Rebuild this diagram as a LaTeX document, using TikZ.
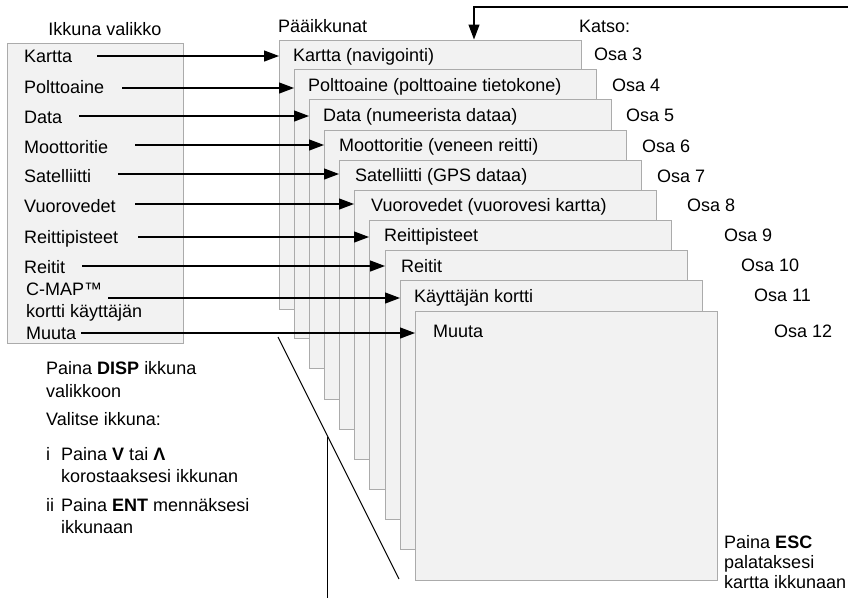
\documentclass[tikz,border=0pt]{standalone}
\usepackage{fontspec}
\setmainfont{Liberation Sans}
\usetikzlibrary{arrows.meta,calc}
\begin{document}
\begin{tikzpicture}[x=1pt,y=-1pt,
  winbox/.style={draw=black!33, fill=black!5, line width=1.2pt, minimum width=302pt, minimum height=269pt, anchor=north west, inner sep=0pt},
  menubox/.style={draw=black!33, fill=black!5, line width=1.2pt, minimum width=176pt, minimum height=300pt, anchor=north west, inner sep=0pt},
  txt/.style={anchor=base west, inner sep=0pt, font=\fontsize{18}{20}\selectfont},
  ctxt/.style={anchor=base, inner sep=0pt, font=\fontsize{18}{20}\selectfont},
  conn/.style={line width=1.2pt, -{Triangle[length=15pt,width=11pt]}},
  guide/.style={line width=1pt}
]
\useasboundingbox (0,0) rectangle (848,598);

% left menu box
\node[menubox] (menu) at (7,43) {};
\node[ctxt] (menutitle) at (105,35) {Ikkuna valikko};
\node[txt] (m0) at (24,62) {Kartta};
\node[txt] (m1) at (24,93) {Polttoaine};
\node[txt] (m2) at (24,123) {Data};
\node[txt] (m3) at (24,153) {Moottoritie};
\node[txt] (m4) at (24,182) {Satelliitti};
\node[txt] (m5) at (24,212) {Vuorovedet};
\node[txt] (m6) at (24,243) {Reittipisteet};
\node[txt] (m7) at (24,273) {Reitit};
\node[txt] (m8) at (26,295) {C-MAP™};
\node[txt] (m8b) at (26,317) {kortti käyttäjän};
\node[txt] (m9) at (26,339) {Muuta};

% window stack
\node[txt] (stacktitle) at (278,32) {Pääikkunat};
\node[txt] (katso) at (579,32) {Katso:};
\foreach \i/\x/\y in {0/279/39.5,1/294/69,2/309/99,3/324/130,4/339/160,5/354/190,6/369/220,7/385/250,8/400/280,9/415/311}
  \node[winbox] (b\i) at (\x,\y) {};

\node[txt] (w0) at (293,61.5) {Kartta (navigointi)};
\node[txt] (w1) at (308,91) {Polttoaine (polttoaine tietokone)};
\node[txt] (w2) at (323,121.5) {Data (numeerista dataa)};
\node[txt] (w3) at (339,151.5) {Moottoritie (veneen reitti)};
\node[txt] (w4) at (355,181.5) {Satelliitti (GPS dataa)};
\node[txt] (w5) at (371,211.5) {Vuorovedet (vuorovesi kartta)};
\node[txt] (w6) at (384,241.5) {Reittipisteet};
\node[txt] (w7) at (401,272) {Reitit};
\node[txt] (w8) at (414,302) {Käyttäjän kortti};
\node[txt] (w9) at (433,337) {Muuta};

% section references
\node[txt] (o3) at (594,60) {Osa 3};
\node[txt] (o4) at (612,91) {Osa 4};
\node[txt] (o5) at (626,121.5) {Osa 5};
\node[txt] (o6) at (642,152) {Osa 6};
\node[txt] (o7) at (657,182) {Osa 7};
\node[txt] (o8) at (687,211.5) {Osa 8};
\node[txt] (o9) at (724,241.5) {Osa 9};
\node[txt] (o10) at (741,271.5) {Osa 10};
\node[txt] (o11) at (754,301.5) {Osa 11};
\node[txt] (o12) at (774,337) {Osa 12};

% connectors from menu to windows
\foreach \i/\x/\y in {0/97/56,1/122/88,2/79/116,3/135/145,4/118/174,5/135/204,6/138/237,7/82/266,8/108/298,9/81/333}{
  \coordinate (a\i) at (\x,\y);
  \draw[conn] (a\i) -- (a\i -| b\i.west);
}

% return arrow from top right
\coordinate (topR) at (848,7);
\coordinate (topC) at (474,7);
\draw[conn] (topR) -- (topC) -- (topC |- b0.north);

% bracket lines bottom left
\coordinate (d1) at (278,337);
\coordinate (d2) at (399,579);
\coordinate (vtop) at ($(d1)!0.413!(d2)$);
\coordinate (vbot) at (0,598);
\draw[guide] (d1) -- (d2);
\draw[guide] (vtop) -- (vtop |- vbot);

% instructions
\node[txt] (n1) at (46,374) {Paina \textbf{DISP} ikkuna};
\node[txt] (n2) at (46,397) {valikkoon};
\node[txt] (n3) at (46,425) {Valitse ikkuna:};
\node[txt] (n4i) at (46,460) {i};
\node[txt] (n4) at (61,460) {Paina \textbf{V} tai \textbf{Λ}};
\node[txt] (n5) at (61,482) {korostaaksesi ikkunan};
\node[txt] (n6i) at (46,511) {ii};
\node[txt] (n6) at (61,511) {Paina \textbf{ENT} mennäksesi};
\node[txt] (n7) at (61,533) {ikkunaan};

\node[txt] (e1) at (724,548) {Paina \textbf{ESC}};
\node[txt] (e2) at (724,568) {palataksesi};
\node[txt] (e3) at (724,588) {kartta ikkunaan};
\end{tikzpicture}
\end{document}
